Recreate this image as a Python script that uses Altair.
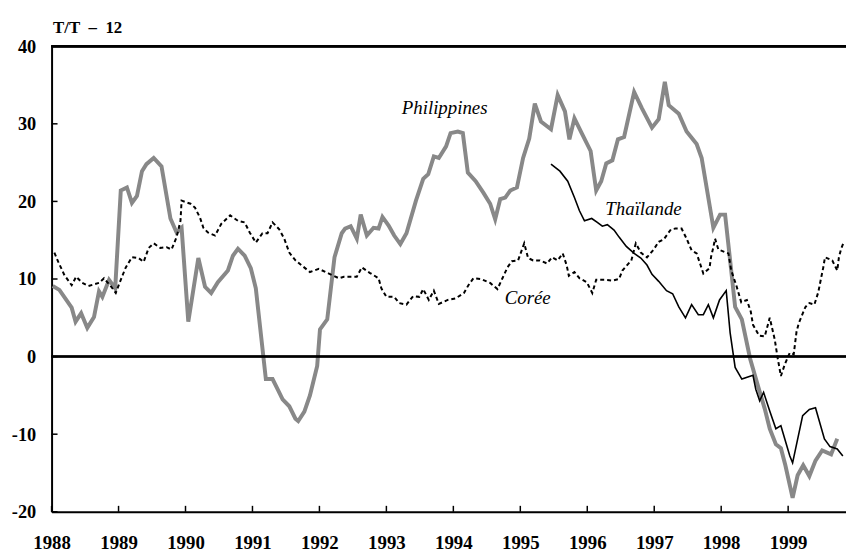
import altair as alt
import pandas as pd

# ---- data (months since Jan 1988, values in %) ----
x_tick_years = list(range(1988, 2000))
y_tick_values = [-20, -10, 0, 10, 20, 30, 40]

phil_m = [0.2, 1.4, 3.6, 4.3, 5.3, 6.4, 7.6, 8.5, 9.1, 10.3, 11.4, 12.4, 13.5, 14.4, 15.3,
          16.2, 17.0, 18.3, 19.7, 21.3, 22.4, 23.3, 24.5, 26.3, 27.5, 28.6, 29.8, 31.6, 32.5,
          33.4, 34.6, 35.7, 36.6, 38.4, 39.6, 40.5, 41.4, 42.6, 43.7, 44.2, 45.3, 46.3, 47.6,
          48.1, 49.4, 50.7, 52.0, 52.6, 53.6, 54.7, 55.4, 56.5, 57.7, 58.6, 59.3, 60.4, 61.4,
          62.5, 63.6, 65.3, 66.6, 67.5, 68.5, 69.4, 70.7, 71.5, 72.8, 73.7, 74.6, 76.0, 77.4,
          78.6, 79.5, 80.4, 81.3, 82.2, 83.4, 84.5, 85.6, 86.6, 87.7, 89.5, 90.7, 92.0, 92.8,
          93.7, 95.0, 96.6, 97.6, 98.5, 99.4, 100.5, 101.5, 102.6, 104.4, 105.8, 107.6, 108.8,
          109.9, 110.6, 112.4, 113.8, 115.6, 116.5, 118.6, 119.8, 120.7, 121.6, 122.5, 123.7,
          125.2, 126.6, 127.8, 128.7, 129.8, 130.7, 131.5, 132.8, 133.7, 134.7, 135.8, 136.9,
          138.1, 139.7, 140.8]
phil_v = [9.1, 8.6, 6.3, 4.5, 5.6, 3.7, 5.1, 8.4, 7.7, 9.9, 8.8, 21.4, 21.8, 19.8, 20.7,
          23.9, 24.8, 25.6, 24.5, 17.8, 16.0, 16.6, 4.5, 12.7, 9.0, 8.2, 9.6, 11.1, 13.0,
          13.9, 13.0, 11.4, 8.8, -2.9, -2.9, -4.2, -5.5, -6.4, -8.0, -8.3, -7.1, -5.0, -1.2,
          3.5, 4.8, 12.8, 15.9, 16.5, 16.8, 15.2, 18.3, 15.6, 16.6, 16.5, 18.0, 16.9, 15.6,
          14.5, 15.9, 20.1, 22.9, 23.5, 25.8, 25.6, 27.1, 28.8, 29.0, 28.8, 23.7, 22.6, 21.1,
          19.7, 17.7, 20.3, 20.5, 21.4, 21.8, 25.6, 28.1, 32.6, 30.3, 29.3, 33.7, 31.6, 28.0,
          30.7, 28.8, 26.5, 21.4, 22.6, 24.9, 25.3, 28.0, 28.3, 34.1, 32.0, 29.5, 30.6,
          35.4, 32.4, 31.3, 29.0, 27.4, 25.6, 16.6, 18.3, 18.3, 12.4, 6.4, 4.8,
          -0.3, -3.8, -6.7, -9.3, -11.3, -11.8, -14.0, -18.2, -15.3, -14.0, -15.4, -13.4,
          -12.1, -12.6, -10.6]

thai_m = [89.5, 91.1, 92.5, 93.7, 94.6, 95.5, 96.8, 97.8, 98.7, 99.6, 100.8, 101.7, 103.0,
          104.4, 105.6, 106.7, 107.6, 108.8, 110.2, 111.3, 112.4, 113.6, 114.7, 115.9, 116.8,
          117.7, 118.6, 119.7, 120.9, 121.6, 122.5, 123.7, 125.7, 126.2, 126.9, 127.6, 128.7,
          129.8, 130.7, 132.3, 132.8, 134.6, 135.8, 136.9, 138.5, 139.5, 140.8, 141.8]
thai_v = [24.8, 23.9, 22.6, 20.5, 18.8, 17.5, 17.8, 17.3, 16.8, 17.0, 16.3, 15.4, 14.2,
          13.3, 12.7, 11.8, 10.6, 9.7, 8.5, 8.1, 6.4, 5.0, 6.7, 5.4, 5.4,
          6.7, 5.0, 7.3, 8.5, 3.1, -1.4, -2.9, -2.4, -4.2, -5.7, -4.6, -7.0,
          -9.3, -8.9, -12.8, -13.7, -7.6, -6.8, -6.6, -10.6, -11.6, -11.9, -12.8]

coree_m = [0.5, 1.2, 2.3, 3.6, 4.4, 5.5, 6.6, 8.5, 9.4, 10.7, 11.5, 12.4, 13.3, 14.4, 15.6,
           16.5, 17.4, 18.3, 19.5, 20.6, 21.5, 22.4, 23.1, 23.3, 24.9, 25.7, 26.6, 27.2, 28.0,
           29.3, 30.4, 32.0, 33.4, 34.6, 35.5, 36.6, 37.8, 38.7, 39.6, 40.8, 41.7, 42.6, 43.7,
           46.3, 47.9, 49.7, 51.5, 52.4, 54.7, 55.6, 57.0, 58.6, 59.1, 60.0, 61.4, 62.3, 63.6,
           64.8, 65.9, 66.6, 67.6, 68.5, 69.4, 71.0, 72.4, 73.9, 74.7, 75.6, 76.9, 78.6, 79.9,
           80.8, 81.7, 82.5, 83.6, 84.7, 85.4, 86.3, 87.5, 88.8, 89.7, 90.7, 91.6, 92.3, 92.7,
           93.7, 94.6, 95.9, 96.9, 97.6, 99.1, 100.5, 101.7, 102.3, 103.9, 104.7, 105.6, 106.7,
           107.9, 108.8, 109.7, 111.0, 111.8, 112.9, 113.8, 114.7, 115.6, 116.3, 116.8, 117.9,
           118.2, 118.6, 118.9, 119.5, 121.3, 121.8, 122.7, 123.6, 124.6, 125.3, 125.7, 126.8,
           127.8, 128.7, 129.6, 130.1, 130.7, 131.4, 132.3, 133.0, 133.5, 133.9, 135.1, 135.8,
           136.7, 137.4, 137.9, 138.3, 138.6, 139.9, 140.8, 141.1, 141.5, 142.0]
coree_v = [13.4, 12.2, 10.5, 9.2, 10.3, 9.5, 9.1, 9.5, 10.1, 9.0, 8.2, 9.9, 11.5, 12.8, 12.7,
           12.2, 14.0, 14.6, 14.0, 14.1, 13.8, 15.4, 17.5, 20.1, 19.7, 19.2, 17.9, 16.6, 16.0,
           15.6, 17.1, 18.2, 17.5, 17.3, 16.0, 14.7, 15.9, 15.9, 17.3, 16.4, 15.2, 13.4, 12.4,
           10.9, 11.3, 10.7, 10.1, 10.3, 10.3, 11.5, 10.8, 10.1, 8.8, 7.7, 7.7, 6.9, 6.7,
           7.8, 7.7, 8.7, 7.3, 8.5, 6.8, 7.3, 7.5, 8.2, 9.2, 10.1, 10.0, 9.5, 8.7,
           10.1, 11.5, 12.3, 12.4, 14.6, 12.7, 12.4, 12.4, 12.0, 12.8, 12.4, 13.3, 11.8, 10.4,
           10.9, 10.1, 9.6, 8.2, 9.9, 9.9, 9.8, 10.0, 11.1, 12.4, 14.6, 13.4, 12.8,
           13.8, 14.8, 15.1, 16.4, 16.5, 16.5, 15.2, 13.7, 13.3, 11.8, 10.7, 11.4,
           12.9, 14.1, 15.2, 13.8, 13.3, 11.1, 9.2, 7.0, 7.3, 5.8, 4.1, 2.7,
           2.6, 5.0, 2.2, -0.1, -2.5, -1.0, 0.5, 0.3, 3.2, 4.3, 6.4, 6.9,
           6.7, 8.3, 10.1, 11.5, 12.8, 12.4, 11.1, 12.8, 13.9, 14.8]

label_text = ["Philippines", "Thaïlande", "Corée"]
label_year = [1993.87, 1996.84, 1995.11]
label_value = [31.3, 18.3, 6.8]

# ---- build tables ----
def series(m, v):
    return pd.DataFrame({"year": [1988 + mm / 12 for mm in m], "value": v})

phil = series(phil_m, phil_v)
thai = series(thai_m, thai_v)
coree = series(coree_m, coree_v)
labels = pd.DataFrame({"text": label_text, "year": label_year, "value": label_value})
xt = pd.DataFrame({"year": x_tick_years})
yt = pd.DataFrame({"value": y_tick_values})

FONT = "Liberation Serif"
X_DOMAIN = [1988, 1999.864]

xscale = alt.Scale(domain=X_DOMAIN, nice=False, zero=False)
yscale = alt.Scale(domain=[-20, 40], nice=False)

x_axis = alt.Axis(values=x_tick_years, format="d", title=None, grid=False, ticks=False,
                  domainColor="black", domainWidth=2, labelFont=FONT, labelFontWeight="bold",
                  labelFontSize=19, labelColor="black", labelPadding=22, labelFlush=False)
y_axis = alt.Axis(values=y_tick_values, title="T/T\u2002\u2013\u200212", grid=False, ticks=False,
                  labelExpr="toString(datum.value)",
                  domainColor="black", domainWidth=2, labelFont=FONT, labelFontWeight="bold",
                  labelFontSize=18.5, labelColor="black", labelPadding=16,
                  titleAngle=0, titleX=1, titleY=-14, titleAlign="left",
                  titleBaseline="alphabetic", titleFont=FONT, titleFontWeight="bold",
                  titleFontSize=17, titleColor="black")

base_x = alt.X("year:Q", scale=xscale, axis=x_axis)
base_y = alt.Y("value:Q", scale=yscale, axis=y_axis)

zero_rule = alt.Chart(yt).mark_rule(color="black", strokeWidth=1.5).encode(
    y=alt.datum(0, scale=yscale)
)
top_rule = alt.Chart(yt).mark_rule(color="black", strokeWidth=2).encode(
    y=alt.datum(40, scale=yscale)
)

phil_line = alt.Chart(phil).mark_line(color="#888888", strokeWidth=4, clip=True).encode(
    x=base_x, y=base_y)
thai_line = alt.Chart(thai).mark_line(color="black", strokeWidth=1.6, clip=True).encode(
    x="year:Q", y="value:Q")
coree_line = alt.Chart(coree).mark_line(color="black", strokeWidth=2, strokeDash=[4, 3],
                                        clip=True).encode(x="year:Q", y="value:Q")

x_ticks = alt.Chart(xt).mark_rule(color="black", strokeWidth=1.5).encode(
    x="year:Q", y=alt.value(470), y2=alt.value(464))
y_ticks = alt.Chart(yt).mark_rule(color="black", strokeWidth=1.5).encode(
    y="value:Q", x=alt.value(0), x2=alt.value(6))

text = alt.Chart(labels).mark_text(font=FONT, fontStyle="italic", fontSize=19,
                                   color="black", align="center",
                                   baseline="alphabetic").encode(
    x="year:Q", y="value:Q", text="text:N")

chart = alt.layer(
    phil_line, zero_rule, top_rule, thai_line, coree_line, x_ticks, y_ticks, text
).properties(
    width=802, height=470,
    autosize=alt.AutoSizeParams(type="none"),
    padding={"left": 44, "top": 36, "right": 0, "bottom": 38},
).configure_view(stroke=None).configure(background="white")

chart.save("out.html", embed_options={"renderer": "svg", "actions": False})
